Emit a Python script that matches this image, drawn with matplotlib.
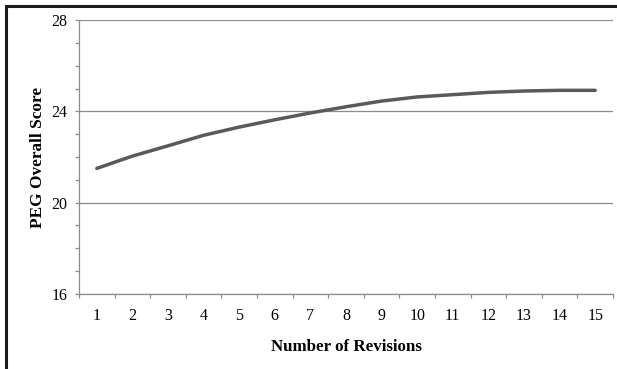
import matplotlib.pyplot as plt
from matplotlib.patches import Rectangle
from matplotlib.ticker import MultipleLocator, FixedLocator

revisions = list(range(1, 16))
scores = [21.5, 22.04, 22.49, 22.95, 23.31, 23.63, 23.93, 24.2,
          24.45, 24.63, 24.73, 24.83, 24.89, 24.92, 24.92]
y_ticks = [16, 20, 24, 28]

plt.rcParams['font.family'] = ['Liberation Serif', 'DejaVu Serif']

fig = plt.figure(figsize=(6.17, 3.69), dpi=100)
ax = fig.add_axes([79 / 617, 1 - 294 / 369, 534 / 617, 274 / 369])

# cadre noir coupé à droite et en bas
fig.patches.append(Rectangle((6 / 617, -0.1), 1.2, 1 - 6.5 / 369 + 0.1,
                             transform=fig.transFigure, fill=False,
                             edgecolor='#1a1a1a', linewidth=2.2))

ax.plot(revisions, scores, color='#5a5a5a', linewidth=2.5, solid_capstyle='round')

ax.set_xlim(0.5, 15.5)
ax.set_ylim(16, 28)
ax.set_yticks(y_ticks)
ax.yaxis.set_minor_locator(MultipleLocator(1))
ax.set_xticks(revisions)
ax.xaxis.set_minor_locator(FixedLocator([i + 0.5 for i in range(0, 16)]))

ax.grid(axis='y', which='major', color='#8c8c8c', linewidth=0.9)
ax.set_axisbelow(True)

for s in ['top', 'right']:
    ax.spines[s].set_visible(False)
for s in ['left', 'bottom']:
    ax.spines[s].set_color('#8c8c8c')
    ax.spines[s].set_linewidth(0.9)

ax.tick_params(axis='x', which='major', length=0, pad=10, labelsize=11.5)
ax.tick_params(axis='x', which='minor', length=3, color='#8c8c8c', width=0.9)
ax.tick_params(axis='y', which='both', length=3, color='#8c8c8c', width=0.9)
ax.tick_params(axis='y', which='major', pad=5.5, labelsize=11.5)

ax.set_xlabel('Number of Revisions', fontsize=12.2, fontweight='bold', labelpad=10.7)
ax.set_ylabel('PEG Overall Score', fontsize=12.4, fontweight='bold', labelpad=3.7)

fig.savefig('out.png', dpi=100)
